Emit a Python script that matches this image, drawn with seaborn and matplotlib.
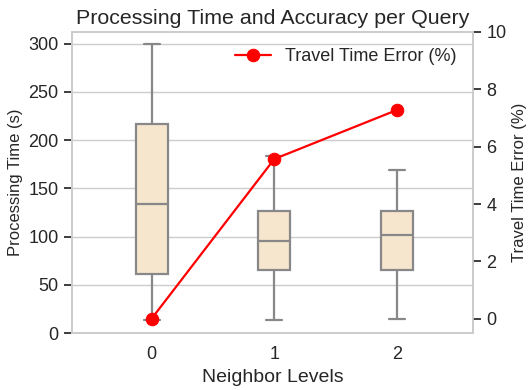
import numpy as np
import pandas as pd
import seaborn as sns
import matplotlib
matplotlib.use("Agg")
import matplotlib.pyplot as plt

# ---- data ----
levels = [0, 1, 2]
time_min = [13.5, 13.5, 14.5]
time_q1 = [61.6, 65.1, 65.0]
time_median = [133.6, 95.2, 101.5]
time_q3 = [216.7, 126.7, 126.7]
time_max = [300.0, 183.0, 169.3]
error_pct = [0.0, 5.57, 7.28]

sns.set_theme(style="whitegrid")
plt.rcParams["font.family"] = ["Liberation Sans", "DejaVu Sans"]

rows = []
for i, lv in enumerate(levels):
    for v in (time_min[i], time_q1[i], time_median[i], time_q3[i], time_max[i]):
        rows.append({"level": lv, "time": v})
df = pd.DataFrame(rows)

fig, ax = plt.subplots(figsize=(5.28, 3.9), dpi=100)
fig.subplots_adjust(left=0.136, right=0.896, top=0.918, bottom=0.146)

sns.boxplot(data=df, x="level", y="time", ax=ax, width=0.26,
            color="#f6e6cd", saturation=1, linecolor="#888888",
            linewidth=1.6, whis=np.inf)
ax.set_ylim(0, 312)
ax.set_yticks(np.arange(0, 301, 50))
ax.set_xlim(-0.65, 2.62)
ax.set_xlabel("Neighbor Levels", fontsize=14)
ax.set_ylabel("Processing Time (s)", fontsize=12)
ax.tick_params(axis="both", labelsize=13)
ax.set_title("Processing Time and Accuracy per Query", fontsize=15.4)

ax2 = ax.twinx()
sns.lineplot(x=levels, y=error_pct, ax=ax2, color="red", marker="o",
             markersize=9, markeredgecolor="red", linewidth=1.6,
             label="Travel Time Error (%)")
ax2.set_ylim(-0.5, 10)
ax2.set_yticks(np.arange(0, 11, 2))
ax2.grid(False)
ax2.set_ylabel("Travel Time Error (%)", fontsize=12)
ax2.tick_params(axis="y", labelsize=13)
ax2.legend(loc="upper right", frameon=False, fontsize=13)
ax.set_xlim(-0.65, 2.62)

fig.savefig("out.png", dpi=100)
